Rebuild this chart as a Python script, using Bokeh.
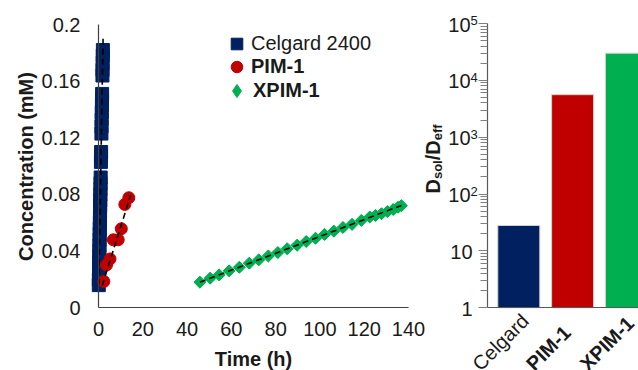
import numpy as np
from bokeh.plotting import figure
from bokeh.models import (Range1d, FixedTicker, Legend, LegendItem, Label, LinearAxis,
                          LogAxis, LogScale)
from bokeh.embed import file_html
from bokeh.resources import INLINE

FONT = "Liberation Sans"
NAVY = "#002060"
RED = "#C00000"
GREEN = "#00B050"
TXT = "#1a1a1a"

# ---------------- left panel data ----------------
celgard_t = [0.13, 0.17, 0.22, 0.26, 0.31, 0.35, 0.39, 0.44, 0.48, 0.53, 0.57, 0.62,
             0.66, 0.71, 0.75, 0.80, 0.84, 0.89, 0.93, 0.98, 1.10, 1.14, 1.18, 1.32,
             1.38, 1.43, 1.49, 1.54, 1.59, 1.63, 1.78, 1.82, 1.88, 1.94, 1.98]
celgard_c = [0.016, 0.020, 0.024, 0.028, 0.032, 0.036, 0.040, 0.044, 0.048, 0.052,
             0.056, 0.060, 0.064, 0.068, 0.072, 0.076, 0.080, 0.084, 0.088, 0.092,
             0.103, 0.107, 0.110, 0.123, 0.128, 0.133, 0.138, 0.143, 0.147, 0.151,
             0.164, 0.168, 0.173, 0.178, 0.182]
pim_t = [2.4, 3.6, 5.2, 6.7, 8.9, 10.3, 11.9, 13.7]
pim_c = [0.0186, 0.0302, 0.0345, 0.0480, 0.0480, 0.0558, 0.0730, 0.0777]
xpim_t = [45.8, 50.4, 54.5, 59.0, 63.6, 68.1, 72.4, 76.7, 81.0, 85.2, 89.7, 93.8, 98.0,
          102.1, 106.3, 110.4, 114.5, 118.7, 122.5, 125.1, 127.8, 130.5, 133.1, 135.3, 136.8]
xpim_c = [0.0181, 0.0209, 0.0232, 0.0261, 0.0286, 0.0315, 0.0339, 0.0366, 0.0390, 0.0417,
          0.0442, 0.0468, 0.0491, 0.0518, 0.0541, 0.0567, 0.0589, 0.0617, 0.0641, 0.0652,
          0.0664, 0.0679, 0.0694, 0.0710, 0.0721]
celgard_fit_t = [0.13, 2.1]
celgard_fit_c = [0.0163, 0.1925]
pim_fit_t = [1.7, 14.5]
pim_fit_c = [0.0158, 0.0795]
xpim_fit_t = [45.8, 136.8]
xpim_fit_c = [0.0181, 0.0723]

x_ticks = [0, 20, 40, 60, 80, 100, 120, 140]
y_ticks = [0, 0.04, 0.08, 0.12, 0.16, 0.2]
y_tick_labels = ["0", "0.04", "0.08", "0.12", "0.16", "0.2"]
series_labels = ["Celgard 2400", "PIM-1", "XPIM-1"]
x_title = "Time (h)"
y_title = "Concentration (mM)"

# ---------------- right panel data ----------------
bar_labels = ["Celgard", "PIM-1", "XPIM-1"]
bar_values = [28, 5600, 30000]
bar_colors = [NAVY, RED, GREEN]
bar_label_bold = [False, True, True]
log_ticks = [1, 10, 100, 1000, 10000, 100000]
log_tick_base = ["1", "10", "10", "10", "10", "10"]
log_tick_exp = ["", "", "2", "3", "4", "5"]

# ---------------- layout geometry (pixels in the 638x370 canvas) ----------------
W, H = 638, 370
LX0, LX1, LY0, LY1 = 98.0, 408.0, 307.3, 24.0      # left panel: t=0, t=140, c=0, c=0.2
kx = 140.0 / (LX1 - LX0)
ky = 0.2 / (LY0 - LY1)
RAX = 487.0          # right panel y-axis position
BC0 = 518.3          # centre of first bar
BP = 53.8            # px per category
RY0, RY5 = 307.3, 23.0   # y of 1 and 1e5
dec = (RY0 - RY5) / 5.0

p = figure(width=W, height=H, output_backend="svg", toolbar_location=None,
           x_range=Range1d(-LX0 * kx, 140 + (W - LX1) * kx),
           y_range=Range1d(-(H - LY0) * ky, 0.2 + LY1 * ky),
           x_axis_location=None, y_axis_location=None,
           min_border=0, min_border_left=0, min_border_right=0,
           min_border_top=0, min_border_bottom=0)
p.extra_x_ranges = {"bar": Range1d(-BC0 / BP, (W - BC0) / BP)}
p.extra_y_ranges = {"log": Range1d(10 ** (-(H - RY0) / dec), 10 ** (5 + RY5 / dec))}
p.extra_y_scales = {"log": LogScale()}
p.outline_line_color = None
p.grid.visible = False

def style_axis(ax, color="#404040"):
    ax.axis_line_color = color
    ax.axis_line_width = 1.2
    ax.major_tick_line_color = None
    ax.minor_tick_line_color = None
    ax.major_tick_out = 0
    ax.major_tick_in = 0
    ax.minor_tick_out = 0
    ax.minor_tick_in = 0
    ax.major_label_text_font = FONT
    ax.major_label_text_font_size = "20px"
    ax.major_label_text_color = TXT

# left panel axes
xax = LinearAxis(fixed_location=0, bounds=(0, 140), ticker=FixedTicker(ticks=x_ticks))
style_axis(xax)
xax.major_label_standoff = 14
p.add_layout(xax, "below")
yax = LinearAxis(fixed_location=0, bounds=(0, 0.2), ticker=FixedTicker(ticks=y_ticks))
style_axis(yax)
yax.major_label_overrides = dict(zip(y_ticks, y_tick_labels))
yax.major_label_standoff = 18
p.add_layout(yax, "left")

# right panel axes
bar_x_left = (RAX - BC0) / BP
lyax = LogAxis(x_range_name="bar", y_range_name="log", fixed_location=bar_x_left,
               bounds=(1, 1e5),
               ticker=FixedTicker(ticks=log_ticks,
                                  minor_ticks=[m * t for t in log_ticks[:-1] for m in range(2, 10)]))
style_axis(lyax, "#595959")
lyax.major_tick_line_color = "#7f7f7f"
lyax.minor_tick_line_color = "#7f7f7f"
lyax.major_tick_out = 9
lyax.minor_tick_out = 7
lyax.major_label_overrides = {t: "" for t in log_ticks}
p.add_layout(lyax, "left")
xs = list(range(len(bar_labels)))
bxax = LinearAxis(x_range_name="bar", y_range_name="log", fixed_location=1,
                  bounds=(bar_x_left, (W - BC0) / BP), ticker=FixedTicker(ticks=xs))
style_axis(bxax, "#595959")
bxax.major_label_overrides = {i: "" for i in xs}
p.add_layout(bxax, "below")

# ---------------- glyphs ----------------
r1 = p.scatter(celgard_t, celgard_c, marker="square", size=13, fill_color=NAVY, line_color=NAVY)
r2 = p.scatter(pim_t, pim_c, marker="circle", size=12, fill_color=RED, line_color=RED)
r3_key = p.scatter(xpim_t, xpim_c, marker="diamond", size=11, fill_color=GREEN, line_color=GREEN)
r3 = p.scatter(xpim_t, xpim_c, marker="square", angle=np.pi / 4, size=8.5,
               fill_color=GREEN, line_color=GREEN)
for ft, fc in ((celgard_fit_t, celgard_fit_c), (pim_fit_t, pim_fit_c), (xpim_fit_t, xpim_fit_c)):
    p.line(ft, fc, line_color="black", line_width=1.6, line_dash="6 4")

p.vbar(x=xs, top=bar_values, bottom=1, width=0.78, fill_color=bar_colors,
       line_color="#d0d0d0", line_width=1, x_range_name="bar", y_range_name="log")

# ---------------- legend ----------------
def make_legend(label, rend, loc, bold, glyph=29):
    return Legend(items=[LegendItem(label=label, renderers=[rend])], location=loc,
                  padding=0, margin=0, spacing=0, glyph_width=glyph, glyph_height=glyph,
                  label_height=23, label_standoff=0, border_line_alpha=0,
                  background_fill_alpha=0, label_text_font=FONT,
                  label_text_font_size="20px", label_text_color=TXT,
                  label_text_font_style="bold" if bold else "normal")

p.add_layout(make_legend(series_labels[0], r1, (222, H - 57.8), False))
p.add_layout(make_legend(series_labels[1], r2, (222, H - 81.2), True))
p.add_layout(make_legend(series_labels[2], r3_key, (220, H - 106.5), True, glyph=33))

# ---------------- texts ----------------
def label(x, y, text, size="20px", bold=False, angle=0.0, align="left", baseline="middle", **kw):
    p.add_layout(Label(x=x, y=y, text=text, angle=angle, text_align=align,
                       text_baseline=baseline, text_font=FONT, text_font_size=size,
                       text_font_style="bold" if bold else "normal", text_color=TXT, **kw))

# axis titles of the left panel
label(253, H - 358, x_title, bold=True, align="center", x_units="screen", y_units="screen")
label(25, H - 166, y_title, bold=True, angle=np.pi / 2, align="center",
      x_units="screen", y_units="screen")

# log tick labels
for tv, b, e in zip(log_ticks, log_tick_base, log_tick_exp):
    if e:
        label(RAX - 17, tv, b, align="right", y_offset=-1, x_units="screen",
              y_units="data", y_range_name="log")
        label(RAX - 17, tv, e, size="13px", align="left", y_offset=3, x_units="screen",
              y_units="data", y_range_name="log")
    else:
        label(RAX - 15, tv, b, align="right", y_offset=-1, x_units="screen",
              y_units="data", y_range_name="log")

# category labels (rotated 45 degrees, starting at the bottom edge)
for xi, lab, bold in zip(xs, bar_labels, bar_label_bold):
    label(xi - 0.80, H - 366.5, lab, bold=bold, angle=np.pi / 4, align="left",
          x_units="data", y_units="screen", x_range_name="bar")

# y title of the right panel: D_sol/D_eff
BOLD_W = {"D": 0.722, "s": 0.556, "o": 0.611, "l": 0.278, "/": 0.278, "e": 0.556, "f": 0.333}
pieces = [("D", 20, 432.5), ("sol", 13, 437), ("/D", 20, 432.5), ("eff", 13, 437)]
ypos = H - 193
for txt, fs, xb in pieces:
    label(xb, ypos, txt, size=f"{fs}px", bold=True, angle=np.pi / 2, align="left",
          baseline="alphabetic", x_units="screen", y_units="screen")
    ypos += sum(BOLD_W[c] for c in txt) * fs

open("out.html", "w").write(file_html(p, INLINE))
